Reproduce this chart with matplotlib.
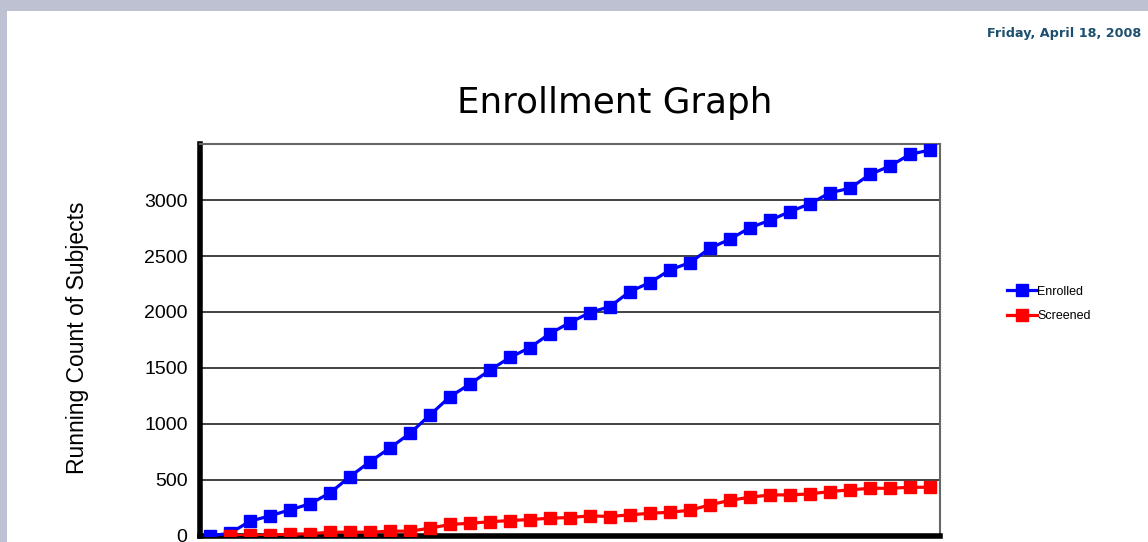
import matplotlib
matplotlib.use("Agg")
import matplotlib.pyplot as plt
from matplotlib.patches import Rectangle

# ---- data ----
periods = list(range(1, 38))
enrolled = [0, 25, 132, 180, 234, 287, 385, 530, 664, 786, 917, 1081, 1244, 1357,
            1482, 1594, 1683, 1808, 1906, 1995, 2049, 2183, 2263, 2376, 2441, 2570,
            2650, 2753, 2819, 2896, 2967, 3065, 3105, 3229, 3303, 3408, 3446]
screened_periods = periods[1:]
screened = [3, 5, 7, 16, 20, 34, 34, 34, 43, 43, 70, 103, 114, 127, 138, 147, 159,
            165, 180, 174, 189, 203, 212, 230, 278, 319, 346, 367, 367, 376, 397,
            412, 426, 426, 435, 435]
y_ticks = [0, 500, 1000, 1500, 2000, 2500, 3000]
series_names = ["Enrolled", "Screened"]
title = "Enrollment Graph"
y_label = "Running Count of Subjects"
date_text = "Friday, April 18, 2008"

sans = ["Liberation Sans", "DejaVu Sans"]

fig = plt.figure(figsize=(11.48, 5.42), dpi=100)
fig.patch.set_facecolor("#BEC1D2")
# white page
fig.add_artist(Rectangle((7 / 1148, 0), 1, (542 - 11) / 542, transform=fig.transFigure,
                         facecolor="white", edgecolor="none", zorder=0))

ax = fig.add_axes([200 / 1148, 6 / 542, 740 / 1148, 392 / 542])
ax.set_facecolor("white")

ax.plot(periods, enrolled, color="#0000FF", lw=2.3, marker="s", ms=8.5,
        label=series_names[0], zorder=3)
ax.plot(screened_periods, screened, color="#FF0000", lw=2.3, marker="s", ms=8.5,
        label=series_names[1], zorder=4)

ax.set_xlim(0.5, len(periods) + 0.5)
ax.set_ylim(0, 3500)
ax.set_yticks(y_ticks)
ax.set_yticklabels([str(v) for v in y_ticks], fontfamily=sans, fontsize=14)
ax.set_xticks([])
ax.tick_params(axis="y", length=0, pad=9)
ax.yaxis.grid(True, color="#333333", lw=1.3)
ax.set_axisbelow(True)

for s in ("top", "right"):
    ax.spines[s].set_color("#666666")
    ax.spines[s].set_linewidth(1.5)
ax.spines["left"].set_linewidth(4)
ax.spines["left"].set_color("black")
ax.spines["bottom"].set_linewidth(4)
ax.spines["bottom"].set_color("black")

fig.text(615 / 1148, (542 - 103) / 542, title, ha="center", va="center",
         fontsize=25.7, fontfamily="DejaVu Sans")
fig.text(78 / 1148, (542 - 338) / 542, y_label, ha="center", va="center",
         rotation=90, fontsize=16.5, fontfamily=sans)
fig.text(1141 / 1148, (542 - 33) / 542, date_text, ha="right", va="center",
         fontsize=9.2, fontweight="bold", color="#1D4F6E", fontfamily="DejaVu Sans")

leg = fig.legend(loc="center left", bbox_to_anchor=(996 / 1148, (542 - 304) / 542),
                 frameon=False, prop={"family": sans, "size": 9},
                 handlelength=2.4, handletextpad=0.0, labelspacing=1.0, markerscale=1.0)

fig.savefig("out.png", dpi=100)
